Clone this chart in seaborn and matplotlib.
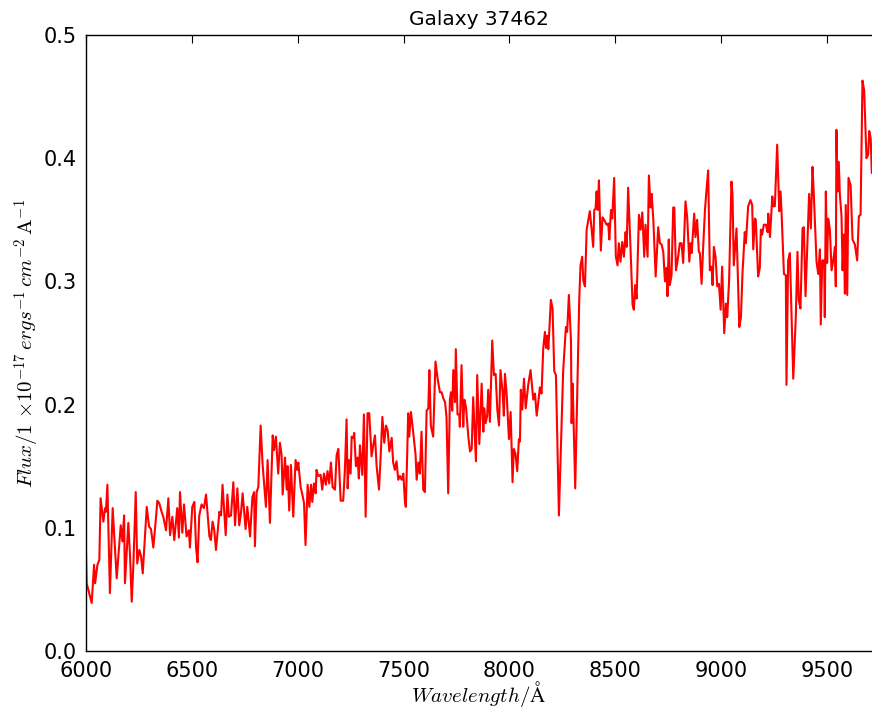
import matplotlib
matplotlib.use("Agg")
import matplotlib.pyplot as plt
import seaborn as sns
import pandas as pd

# Spectrum of galaxy 37462: wavelength (Angstrom) and flux samples
wavelength = [
    6000, 6003, 6027, 6038, 6043, 6054, 6063, 6069, 6082, 6090, 6094, 6101, 6113, 6126, 6145, 6164,
    6172, 6180, 6184, 6200, 6208, 6216, 6224, 6235, 6242, 6252, 6260, 6268, 6287, 6298, 6307, 6318,
    6331, 6337, 6346, 6357, 6365, 6378, 6389, 6397, 6408, 6417, 6431, 6439, 6444, 6455, 6463, 6475,
    6486, 6491, 6502, 6512, 6520, 6527, 6535, 6546, 6557, 6567, 6583, 6590, 6598, 6606, 6614, 6622,
    6630, 6638, 6645, 6660, 6668, 6675, 6685, 6696, 6704, 6715, 6724, 6732, 6740, 6754, 6762, 6775,
    6786, 6794, 6798, 6806, 6814, 6825, 6834, 6850, 6858, 6869,
    6882, 6888, 6897, 6908, 6916, 6924, 6929, 6940, 6948, 6952, 6960, 6968, 6979, 6990, 6998, 7003,
    7014, 7022, 7030, 7037, 7047, 7055, 7063, 7069, 7077, 7085, 7089, 7097, 7108, 7116, 7124, 7133,
    7141, 7149, 7157, 7165, 7176, 7184, 7192, 7203, 7215, 7223, 7231, 7236, 7242, 7250, 7255, 7263,
    7267, 7275, 7283, 7289, 7294, 7305, 7313, 7321, 7330, 7338, 7349, 7357, 7365, 7373, 7384, 7392,
    7400, 7409, 7417, 7425, 7433, 7444, 7451, 7459, 7467, 7475, 7483, 7491, 7499, 7507, 7511, 7522,
    7527, 7535, 7546, 7557, 7562, 7570, 7577, 7585, 7593, 7601, 7609, 7617, 7622, 7629, 7640, 7651,
    7661, 7672, 7680, 7688, 7696, 7703, 7711, 7719, 7724, 7730, 7735, 7743, 7747, 7755, 7763, 7766,
    7774, 7782, 7787, 7795, 7806, 7814, 7822, 7829, 7842, 7848, 7858, 7869, 7877, 7881, 7888, 7895,
    7900, 7908, 7919, 7927, 7935, 7943, 7951, 7958, 7968, 7974, 7979, 7987, 7998, 8006, 8015, 8021,
    8029, 8037, 8045, 8050, 8054, 8061, 8069, 8077, 8089, 8100, 8113, 8121, 8129, 8136, 8144, 8152,
    8160, 8168, 8173, 8179, 8184, 8196, 8204, 8212, 8220, 8234, 8254, 8267, 8273, 8281, 8291, 8294,
    8299, 8311,
    8330, 8336, 8344, 8349, 8357, 8365, 8373, 8380, 8388, 8396, 8401, 8407, 8412, 8417, 8423,
    8432, 8440, 8448, 8459, 8467, 8472, 8480, 8486, 8495, 8503, 8511, 8517, 8525, 8533, 8541, 8549,
    8554, 8561, 8572, 8582, 8588, 8594, 8601, 8612, 8620, 8628, 8637, 8643, 8653, 8659, 8667, 8672,
    8680, 8691, 8703, 8711, 8719, 8727, 8735, 8742, 8747, 8753, 8758, 8766, 8774, 8779, 8787, 8798,
    8805, 8813, 8821, 8832, 8840, 8850, 8856, 8861, 8873, 8879, 8887, 8895, 8900, 8908, 8916, 8924,
    8931, 8939, 8947, 8955, 8960, 8966, 8974, 8982, 8990, 8998, 9005, 9015, 9023, 9029, 9038, 9049,
    9054, 9060, 9073, 9086, 9094, 9101, 9112, 9117, 9128, 9139, 9147, 9152, 9160, 9164, 9175, 9183,
    9188, 9194, 9202, 9212, 9220, 9223, 9231, 9242, 9246, 9254, 9265, 9275, 9281, 9286, 9297, 9306,
    9309, 9317, 9325, 9341, 9353, 9361, 9367, 9375, 9385, 9391, 9399, 9407, 9416, 9424, 9432, 9438,
    9451, 9459, 9467, 9471, 9478, 9487, 9490, 9495, 9501, 9506, 9514, 9522, 9530, 9538, 9542, 9545,
    9550, 9556, 9561, 9569, 9574, 9580, 9585, 9589, 9596, 9602, 9612, 9621, 9632, 9643, 9651, 9659,
    9668, 9676, 9687, 9695, 9700, 9707, 9712,
]

flux = [
    0.081, 0.055, 0.039, 0.070, 0.055, 0.070, 0.074, 0.124, 0.105, 0.116, 0.113, 0.135, 0.047, 0.116, 0.059, 0.102,
    0.089, 0.110, 0.055, 0.104, 0.077, 0.040, 0.071, 0.129, 0.071, 0.082, 0.077, 0.063, 0.117, 0.101, 0.099, 0.084,
    0.109, 0.122, 0.120, 0.113, 0.109, 0.098, 0.124, 0.094, 0.109, 0.090, 0.116, 0.092, 0.129, 0.096, 0.119, 0.093,
    0.098, 0.084, 0.117, 0.121, 0.084, 0.072, 0.110, 0.119, 0.116, 0.127, 0.093, 0.090, 0.105, 0.098, 0.082, 0.097,
    0.113, 0.110, 0.135, 0.094, 0.127, 0.109, 0.110, 0.137, 0.102, 0.132, 0.102, 0.112, 0.128, 0.099, 0.117, 0.093,
    0.125, 0.129, 0.085, 0.129, 0.133, 0.183, 0.152, 0.117, 0.155, 0.104,
    0.175, 0.163, 0.174, 0.144, 0.169, 0.159, 0.127, 0.157, 0.131, 0.150, 0.114, 0.151, 0.109, 0.155, 0.147, 0.153,
    0.133, 0.127, 0.120, 0.086, 0.135, 0.117, 0.135, 0.121, 0.136, 0.128, 0.147, 0.142, 0.143, 0.131, 0.144, 0.135,
    0.146, 0.136, 0.153, 0.133, 0.131, 0.159, 0.164, 0.122, 0.122, 0.147, 0.188, 0.132, 0.155, 0.144, 0.174, 0.173,
    0.177, 0.150, 0.157, 0.140, 0.167, 0.143, 0.192, 0.109, 0.193, 0.193, 0.158, 0.167, 0.175, 0.150, 0.131, 0.158,
    0.190, 0.169, 0.183, 0.179, 0.162, 0.173, 0.153, 0.147, 0.154, 0.139, 0.142, 0.139, 0.144, 0.120, 0.117, 0.193,
    0.174, 0.194, 0.177, 0.159, 0.139, 0.153, 0.144, 0.178, 0.131, 0.129, 0.195, 0.197, 0.228, 0.183, 0.174, 0.235,
    0.221, 0.210, 0.210, 0.205, 0.202, 0.190, 0.128, 0.204, 0.210, 0.195, 0.228, 0.202, 0.245, 0.192, 0.192, 0.182,
    0.232, 0.182, 0.204, 0.198, 0.174, 0.162, 0.164, 0.206, 0.154, 0.224, 0.168, 0.217, 0.178, 0.197, 0.185, 0.191,
    0.212, 0.186, 0.252, 0.224, 0.225, 0.196, 0.183, 0.228, 0.210, 0.191, 0.225, 0.209, 0.172, 0.194, 0.137, 0.164,
    0.160, 0.146, 0.172, 0.170, 0.212, 0.196, 0.221, 0.197, 0.216, 0.228, 0.204, 0.209, 0.191, 0.201, 0.214, 0.209,
    0.246, 0.259, 0.246, 0.256, 0.245, 0.285, 0.278, 0.227, 0.224, 0.110, 0.227, 0.263, 0.259, 0.289, 0.252, 0.185,
    0.217, 0.132,
    0.285, 0.313, 0.320, 0.301, 0.296, 0.342, 0.350, 0.357, 0.343, 0.328, 0.358, 0.359, 0.373, 0.358, 0.382,
    0.325, 0.352, 0.350, 0.346, 0.347, 0.334, 0.358, 0.351, 0.384, 0.320, 0.313, 0.331, 0.316, 0.332, 0.320, 0.340,
    0.328, 0.376, 0.328, 0.281, 0.277, 0.297, 0.286, 0.354, 0.342, 0.356, 0.320, 0.346, 0.320, 0.386, 0.360, 0.371,
    0.350, 0.304, 0.344, 0.331, 0.330, 0.324, 0.300, 0.311, 0.288, 0.334, 0.297, 0.305, 0.360, 0.360, 0.309, 0.321,
    0.331, 0.331, 0.315, 0.365, 0.352, 0.316, 0.331, 0.323, 0.355, 0.336, 0.350, 0.324, 0.323, 0.298, 0.330, 0.358,
    0.374, 0.390, 0.309, 0.312, 0.297, 0.328, 0.320, 0.296, 0.298, 0.277, 0.312, 0.258, 0.282, 0.271, 0.301, 0.381,
    0.371, 0.313, 0.343, 0.263, 0.271, 0.306, 0.340, 0.331, 0.361, 0.366, 0.362, 0.326, 0.351, 0.350, 0.304, 0.311,
    0.342, 0.338, 0.346, 0.346, 0.340, 0.355, 0.336, 0.369, 0.361, 0.361, 0.411, 0.357, 0.373, 0.355, 0.306, 0.305,
    0.216, 0.317, 0.323, 0.221, 0.271, 0.324, 0.285, 0.278, 0.343, 0.344, 0.288, 0.326, 0.371, 0.343, 0.393, 0.371,
    0.316, 0.306, 0.326, 0.265, 0.317, 0.317, 0.271, 0.373, 0.315, 0.351, 0.342, 0.309, 0.317, 0.328, 0.296, 0.423,
    0.373, 0.397, 0.371, 0.353, 0.309, 0.338, 0.290, 0.362, 0.289, 0.384, 0.378, 0.334, 0.330, 0.317, 0.353, 0.354,
    0.463, 0.455, 0.400, 0.403, 0.422, 0.416, 0.388,
]

x_ticks = [6000, 6500, 7000, 7500, 8000, 8500, 9000, 9500]
y_ticks = [0.0, 0.1, 0.2, 0.3, 0.4, 0.5]

sns.set_style("white")
plt.rcParams["mathtext.fontset"] = "cm"
plt.rcParams["font.family"] = ["DejaVu Sans"]
plt.rcParams["text.color"] = "black"
plt.rcParams["axes.labelcolor"] = "black"
plt.rcParams["xtick.color"] = "black"
plt.rcParams["ytick.color"] = "black"

spectrum = pd.DataFrame({"wavelength": wavelength, "flux": flux})

fig = plt.figure(figsize=(8.72, 7.08), dpi=100)
ax = fig.add_axes([86 / 872, 57 / 708, 786 / 872, 616 / 708])

sns.lineplot(data=spectrum, x="wavelength", y="flux", ax=ax, color="#ff0000",
             linewidth=1.5, sort=False, estimator=None)

ax.set_xlim(6000, 9713)
ax.set_ylim(0.0, 0.5)
ax.set_xticks(x_ticks)
ax.set_xticklabels([str(t) for t in x_ticks])
ax.set_yticks(y_ticks)
ax.set_yticklabels([f"{t:.1f}" for t in y_ticks])

ax.tick_params(axis="both", direction="in", length=6, width=0.8,
               colors="black", labelsize=15, top=True, right=False, pad=7)

for side in ["left", "top", "bottom"]:
    ax.spines[side].set_color("black")
    ax.spines[side].set_linewidth(1.0)
ax.spines["right"].set_visible(False)

ax.set_title("Galaxy 37462", fontsize=14.5, pad=7, color="black")
ax.set_xlabel(r"$Wavelength / \mathrm{\AA}$", fontsize=15, labelpad=-1)
ax.set_ylabel(r"$Flux / 1\ {\times}10^{-17}\,ergs^{-1}\,cm^{-2}\,\mathrm{A}^{-1}$",
              fontsize=15, labelpad=1)

fig.savefig("out.png", dpi=100)
